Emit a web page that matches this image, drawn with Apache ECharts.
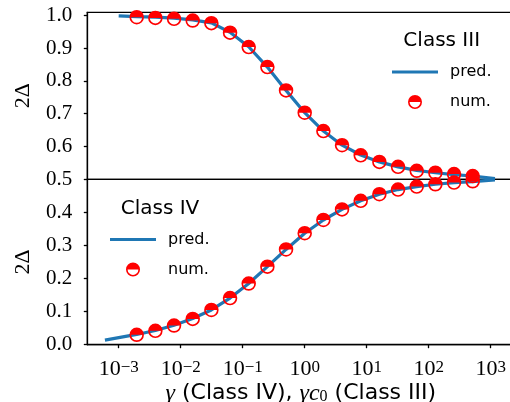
<!DOCTYPE html>
<html>
<head>
<meta charset="utf-8">
<script src="https://cdn.jsdelivr.net/npm/echarts@6/dist/echarts.min.js"></script>
<style>html,body{margin:0;padding:0;background:#fff}#c{width:510px;height:402px}</style>
</head>
<body>
<div id="c"></div>
<script>
// gamma values of the numerical points (factor-2 grid)
var gammaPts = [0.001953125, 0.00390625, 0.0078125, 0.015625, 0.03125, 0.0625, 0.125, 0.25, 0.5, 1, 2, 4, 8, 16, 32, 64, 128, 256, 512];
// Class III (top panel) numerical results
var class3Num = [0.994, 0.992, 0.989, 0.984, 0.976, 0.947, 0.903, 0.842, 0.771, 0.703, 0.647, 0.604, 0.573, 0.553, 0.538, 0.526, 0.520, 0.516, 0.510];
// Class IV (bottom panel) numerical results
var class4Num = [0.030, 0.042, 0.058, 0.078, 0.105, 0.141, 0.185, 0.236, 0.288, 0.337, 0.377, 0.409, 0.435, 0.455, 0.469, 0.478, 0.485, 0.490, 0.494];
// prediction curves
var class3PredX = [0.001, 0.001953125, 0.00390625, 0.0078125, 0.015625, 0.03125, 0.0625, 0.125, 0.25, 0.5, 1, 2, 4, 8, 16, 32, 64, 128, 256, 512, 1170];
var class3PredY = [0.998, 0.996, 0.994, 0.991, 0.986, 0.977, 0.948, 0.904, 0.842, 0.771, 0.703, 0.647, 0.604, 0.574, 0.553, 0.538, 0.527, 0.520, 0.514, 0.510, 0.502];
var class4PredX = [0.0006, 0.001953125, 0.00390625, 0.0078125, 0.015625, 0.03125, 0.0625, 0.125, 0.25, 0.5, 1, 2, 4, 8, 16, 32, 64, 128, 256, 512, 1170];
var class4PredY = [0.014, 0.031, 0.043, 0.059, 0.079, 0.105, 0.141, 0.185, 0.236, 0.288, 0.337, 0.377, 0.409, 0.435, 0.455, 0.469, 0.478, 0.485, 0.490, 0.493, 0.498];
// tick values
var xTicks = [0.001, 0.01, 0.1, 1, 10, 100, 1000];
var yTicksTop = [0.5, 0.6, 0.7, 0.8, 0.9, 1.0];
var yTicksBottom = [0.0, 0.1, 0.2, 0.3, 0.4];

function zip(xs, ys) { return xs.map(function (x, i) { return [x, ys[i]]; }); }

// half-filled (top) circle marker: ring + top half disc
var halfMarker = 'path://M0,10 A10,10 0 1,1 20,10 A10,10 0 1,1 0,10 Z M2.3,10 A7.7,7.7 0 1,0 17.7,10 A7.7,7.7 0 1,0 2.3,10 Z M0,10 A10,10 0 0,1 20,10 Z';
var lineIcon = 'path://M0,0 H46 V3 H0 Z';

var serif = 'Liberation Serif';
var sans = 'DejaVu Sans';
var blue = '#1f77b4';
var red = '#ff0000';

var xMin = Math.pow(10, -3.506), xMax = Math.pow(10, 3.38);

function xAxisCfg(idx, show) {
  return {
    type: 'log', logBase: 10, gridIndex: idx, min: xMin, max: xMax,
    show: show,
    axisLine: { show: true, lineStyle: { color: '#000', width: 1.3 } },
    axisTick: { show: true, length: 3.5, lineStyle: { color: '#000', width: 1.3 }, customValues: xTicks },
    splitLine: { show: false },
    minorTick: { show: false },
    axisLabel: {
      show: true, margin: 14, customValues: xTicks,
      formatter: function (v) {
        var e = Math.round(Math.log(v) / Math.LN10);
        return '10{s|' + (e < 0 ? '\u2212' + (-e) : e) + '}';
      },
      fontFamily: serif, fontSize: 22, color: '#000', lineHeight: 22,
      rich: { s: { fontFamily: serif, fontSize: 17, verticalAlign: 'top', lineHeight: 14, color: '#000' } }
    },
    name: show ? '{i|\u03b3} (Class IV), {i|\u03b3c}{sub|0} (Class III)' : '',
    nameLocation: 'middle', nameGap: 34,
    nameTextStyle: {
      fontFamily: sans, fontSize: 22, color: '#000', lineHeight: 22,
      rich: {
        i: { fontFamily: serif, fontStyle: 'italic', fontSize: 24, color: '#000' },
        sub: { fontFamily: serif, fontSize: 16, verticalAlign: 'bottom', padding: [8, 0, 0, 0], color: '#000' }
      }
    }
  };
}

function yAxisCfg(idx, min, max, ticks) {
  return {
    type: 'value', gridIndex: idx, min: min, max: max,
    axisLine: { show: true, lineStyle: { color: '#000', width: 1.3 } },
    axisTick: { show: true, length: 3.5, lineStyle: { color: '#000', width: 1.3 }, customValues: ticks },
    splitLine: { show: false },
    axisLabel: {
      margin: 15, customValues: ticks, padding: [3, 0, 0, 0],
      formatter: function (v) { return Number(v).toFixed(1); },
      fontFamily: serif, fontSize: 21, color: '#000'
    },
    name: '2\u0394', nameLocation: 'middle', nameGap: 53, nameRotate: 90,
    nameTextStyle: { fontFamily: serif, fontSize: 22, color: '#000', lineHeight: 22 }
  };
}

var chart = echarts.init(document.getElementById('c'), null, { renderer: 'canvas' });
var legendBase = {
  orient: 'vertical', itemWidth: 46, itemHeight: 14, itemGap: 14,
  data: [{ name: 'pred.', icon: lineIcon }, { name: 'num.' }], selectedMode: false,
  textStyle: { fontFamily: sans, fontSize: 16, lineHeight: 16, color: '#000', padding: [0, 0, 0, 7] }
};
chart.setOption({
  animation: false,
  backgroundColor: '#fff',
  grid: [
    { left: 87.3, right: -4.3, top: 12.3, height: 167, show: true, borderColor: '#000', borderWidth: 1.3, containLabel: false, outerBoundsMode: 'none' },
    { left: 87.3, right: -4.3, top: 179.3, height: 165.4, show: true, borderColor: '#000', borderWidth: 1.3, containLabel: false, outerBoundsMode: 'none' }
  ],
  xAxis: [xAxisCfg(0, false), xAxisCfg(1, true)],
  yAxis: [yAxisCfg(0, 0.5, 1.009, yTicksTop), yAxisCfg(1, 0, 0.5, yTicksBottom)],
  legend: [
    Object.assign({}, legendBase, { left: 387, top: 59 }),
    Object.assign({}, legendBase, { left: 105, top: 226.5 })
  ],
  graphic: [
    { type: 'text', x: 441.7, y: 41, style: { text: 'Class III', font: '20px "DejaVu Sans"', fill: '#000', textAlign: 'center', textVerticalAlign: 'middle' } },
    { type: 'text', x: 160, y: 208.5, style: { text: 'Class IV', font: '20px "DejaVu Sans"', fill: '#000', textAlign: 'center', textVerticalAlign: 'middle' } }
  ],
  series: [
    { name: 'pred.', type: 'line', xAxisIndex: 0, yAxisIndex: 0, data: zip(class3PredX, class3PredY), symbol: 'none', showSymbol: false, smooth: false, lineStyle: { color: blue, width: 3.2 }, itemStyle: { color: blue }, z: 2 },
    { name: 'num.', type: 'scatter', xAxisIndex: 0, yAxisIndex: 0, data: zip(gammaPts, class3Num), symbol: halfMarker, symbolSize: 14.5, itemStyle: { color: red, opacity: 1 }, clip: false, z: 3 },
    { name: 'pred.', type: 'line', xAxisIndex: 1, yAxisIndex: 1, data: zip(class4PredX, class4PredY), symbol: 'none', showSymbol: false, smooth: false, lineStyle: { color: blue, width: 3.2 }, itemStyle: { color: blue }, z: 2 },
    { name: 'num.', type: 'scatter', xAxisIndex: 1, yAxisIndex: 1, data: zip(gammaPts, class4Num), symbol: halfMarker, symbolSize: 14.5, itemStyle: { color: red, opacity: 1 }, clip: false, z: 3 }
  ]
});
</script>
</body>
</html>
